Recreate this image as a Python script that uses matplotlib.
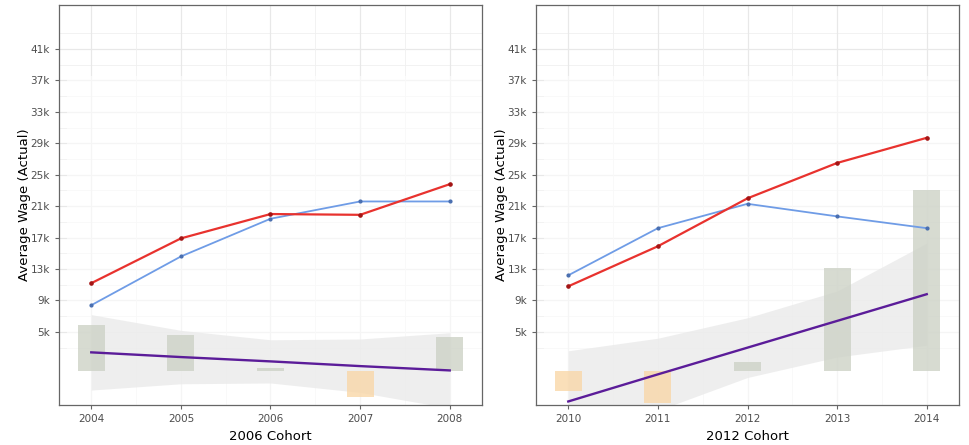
import matplotlib.pyplot as plt
from matplotlib.ticker import FuncFormatter

# 2006 cohort
years_06 = [2004, 2005, 2006, 2007, 2008]
red_06 = [11200, 16900, 20000, 19900, 23800]
blue_06 = [8400, 14600, 19400, 21600, 21600]
trend_06 = [2400, 1800, 1250, 650, 100]
band_hi_06 = [7200, 5200, 4000, 4100, 4900]
band_lo_06 = [-2400, -1600, -1500, -2700, -4700]
bars_06 = [5900, 4600, 400, -3300, 4300]

# 2012 cohort
years_12 = [2010, 2011, 2012, 2013, 2014]
red_12 = [10800, 15900, 22000, 26500, 29700]
blue_12 = [12200, 18200, 21300, 19700, 18200]
trend_12 = [-3850, -400, 3000, 6400, 9800]
band_hi_12 = [2600, 4200, 6800, 10200, 16300]
band_lo_12 = [-10300, -5000, -800, 1800, 3300]
bars_12 = [-2500, -4100, 1200, 13100, 23000]

yticks = [5000, 9000, 13000, 17000, 21000, 25000, 29000, 33000, 37000, 41000]

fig = plt.figure(figsize=(9.69, 4.45), dpi=100)
ax1 = fig.add_axes([59/969, 40/445, 423/969, 400/445])
ax2 = fig.add_axes([536/969, 40/445, 423/969, 400/445])


def draw(ax, years, red, blue, trend, hi, lo, bars, xlabel):
    x0 = years[0]
    ax.set_xlim(x0 - 0.36, years[-1] + 0.36)
    ax.set_ylim(-4300, 46600)

    # grid like theme_bw
    for y in yticks:
        ax.axhline(y, color='#e8e8e8', lw=0.9, zorder=0)
    for y in range(3000, 45000, 4000):
        ax.axhline(y, color='#f0f0f0', lw=0.6, zorder=0)
    for x in years:
        ax.axvline(x, color='#e8e8e8', lw=0.9, zorder=0)
    for x in years[:-1]:
        ax.axvline(x + 0.5, color='#f0f0f0', lw=0.6, zorder=0)
    # washed out lower part
    ax.axhspan(-4300, 37600, xmin=0.02, xmax=1, color='white', alpha=0.6, lw=0, zorder=0.5)

    ax.fill_between(years, lo, hi, color='#e9e9e9', alpha=0.75, lw=0, zorder=1)
    cols = ['#cdd2c6' if b >= 0 else '#f9d7a8' for b in bars]
    ax.bar(years, bars, width=0.3, color=cols, alpha=0.8, lw=0, zorder=2)

    ax.plot(years, blue, color='#6f9ce6', lw=1.3, marker='o', ms=2.0,
            mfc='#4a6fb0', mec='#4a6fb0', zorder=3)
    ax.plot(years, red, color='#e8322e', lw=1.6, marker='o', ms=2.3,
            mfc='#a31515', mec='#a31515', zorder=3)
    ax.plot(years, trend, color='#5b1c99', lw=1.7, zorder=3)

    ax.set_yticks(yticks)
    ax.yaxis.set_major_formatter(FuncFormatter(lambda v, p: f'{int(v / 1000)}k'))
    ax.set_xticks(years)
    ax.tick_params(axis='both', colors='#666666', labelsize=7.5, length=3, width=0.8,
                   labelcolor='#4d4d4d')
    for s in ax.spines.values():
        s.set_color('#666666')
        s.set_linewidth(0.9)
    ax.set_ylabel('Average Wage (Actual)', fontsize=9.5, labelpad=0)
    ax.set_xlabel(xlabel, fontsize=9.5, labelpad=4)


draw(ax1, years_06, red_06, blue_06, trend_06, band_hi_06, band_lo_06, bars_06, '2006 Cohort')
draw(ax2, years_12, red_12, blue_12, trend_12, band_hi_12, band_lo_12, bars_12, '2012 Cohort')

fig.savefig('out.png', dpi=100)
